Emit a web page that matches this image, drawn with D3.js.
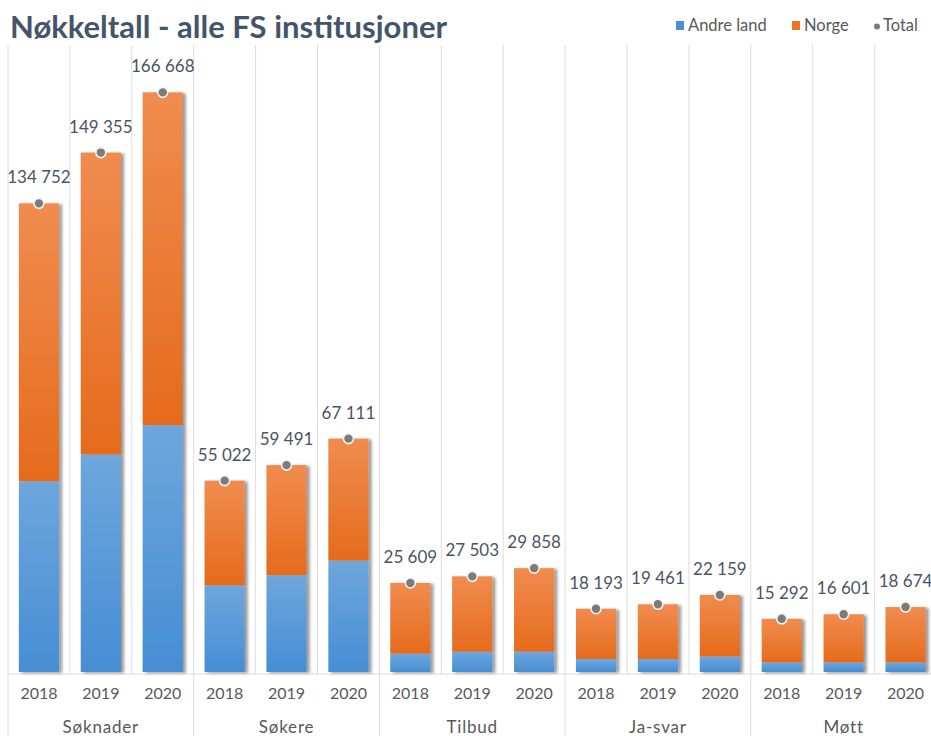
<!DOCTYPE html>
<html>
<head>
<meta charset="utf-8">
<script src="https://cdn.jsdelivr.net/npm/d3@7"></script>
<style>
  body { margin: 0; background: #fff; }
  svg { display: block; font-family: Lato, "Open Sans", sans-serif; }
</style>
</head>
<body>
<svg id="chart" width="931" height="736"></svg>
<script>
// Data
var groups = ["Søknader", "Søkere", "Tilbud", "Ja-svar", "Møtt"];
var years = ["2018", "2019", "2020"];
var total = [134752, 149355, 166668, 55022, 59491, 67111, 25609, 27503, 29858, 18193, 19461, 22159, 15292, 16601, 18674];
var andreLand = [54850, 62530, 70960, 24920, 27800, 32030, 5270, 5840, 5840, 3740, 3740, 4490, 2760, 2760, 2760];
var norge = [79902, 86825, 95708, 30102, 31691, 35081, 20339, 21663, 24018, 14453, 15721, 17669, 12532, 13841, 15914];

var svg = d3.select("#chart");
var width = 931, height = 736;
var plotLeft = 8, plotRight = 936.5, base = 672, plotTop = 46;

// one row per bar
var rows = total.map(function(t, i) {
  return { i: i, group: groups[Math.floor(i / 3)], year: years[i % 3], andre: andreLand[i], norge: norge[i], total: t };
});

var x = d3.scaleBand()
  .domain(d3.range(rows.length))
  .range([plotLeft, plotRight])
  .paddingInner(0.35)
  .paddingOuter(0.175);

var y = d3.scaleLinear().domain([0, 180000]).range([base, plotTop]);

var stack = d3.stack().keys(["andre", "norge"]);
var series = stack(rows);

//====== defs: gradients + shadow ======
var defs = svg.append("defs");
function grad(id, c1, c2) {
  var g = defs.append("linearGradient").attr("id", id)
    .attr("x1", 0).attr("y1", 0).attr("x2", 0).attr("y2", 1);
  g.append("stop").attr("offset", "0%").attr("stop-color", c1);
  g.append("stop").attr("offset", "100%").attr("stop-color", c2);
}
grad("g-andre", "#6ea6dd", "#468ed4");
grad("g-norge", "#f08c4f", "#e56b1c");

var f = defs.append("filter").attr("id", "shadow")
  .attr("x", "-20%").attr("y", "-5%").attr("width", "150%").attr("height", "110%");
f.append("feDropShadow").attr("dx", 3).attr("dy", 1).attr("stdDeviation", 1.8)
  .attr("flood-color", "#000").attr("flood-opacity", 0.4);

//====== gridlines ======
var step = x.step();
var bounds = d3.range(rows.length + 1).map(function(k) { return plotLeft + k * step; });

svg.append("g").selectAll("line").data(bounds).join("line")
  .attr("x1", function(d) { return d; }).attr("x2", function(d) { return d; })
  .attr("y1", plotTop - 1)
  .attr("y2", function(d, k) { return k % 3 === 0 ? height : base + 2; })
  .attr("stroke", "#dcdcdc").attr("stroke-width", 1);

svg.append("line")
  .attr("x1", plotLeft).attr("x2", width)
  .attr("y1", base + 2).attr("y2", base + 2)
  .attr("stroke", "#dcdcdc");

//====== bars ======
var fills = { andre: "url(#g-andre)", norge: "url(#g-norge)" };
svg.append("g").selectAll("g").data(rows).join("g")
  .attr("filter", "url(#shadow)")
  .each(function(r) {
    var g = d3.select(this);
    series.forEach(function(s) {
      var d = s[r.i];
      g.append("rect")
        .attr("x", x(r.i))
        .attr("width", x.bandwidth())
        .attr("y", y(d[1]))
        .attr("height", y(d[0]) - y(d[1]))
        .attr("fill", fills[s.key]);
    });
  });

//====== total dots + labels ======
var fmt = function(v) { return d3.format(",")(v).replace(/,/g, " "); };

svg.append("g").selectAll("circle").data(rows).join("circle")
  .attr("cx", function(r) { return x(r.i) + x.bandwidth() / 2; })
  .attr("cy", function(r) { return y(r.total); })
  .attr("r", 5)
  .attr("fill", "#7b7b7b")
  .attr("stroke", "#f4f4f4").attr("stroke-width", 1.6);

svg.append("g").selectAll("text").data(rows).join("text")
  .attr("x", function(r) { return x(r.i) + x.bandwidth() / 2; })
  .attr("y", function(r) { return y(r.total) - 20; })
  .attr("text-anchor", "middle")
  .attr("font-size", 17)
  .attr("fill", "#4a5464")
  .text(function(r) { return fmt(r.total); });

//====== x axis ======
var axis = svg.append("g")
  .attr("transform", "translate(0," + (base + 2) + ")")
  .call(d3.axisBottom(x).tickSize(0).tickPadding(14)
    .tickFormat(function(i) { return years[i % 3]; }));
axis.select(".domain").remove();
axis.selectAll("text")
  .attr("font-family", "Lato, sans-serif")
  .attr("font-size", 16)
  .attr("fill", "#595959");

svg.append("g").selectAll("text").data(groups).join("text")
  .attr("x", function(g, k) { return plotLeft + (k * 3 + 1.5) * step; })
  .attr("y", 733)
  .attr("text-anchor", "middle")
  .attr("font-size", 17)
  .attr("letter-spacing", 0.8)
  .attr("fill", "#595959")
  .text(function(g) { return g; });

//====== title + legend ======
svg.append("text")
  .attr("x", 10).attr("y", 38)
  .attr("font-size", 31).attr("font-weight", "bold")
  .attr("fill", "#44546a")
  .text("Nøkkeltall - alle FS institusjoner");

var legendItems = [
  { label: "Andre land", color: "#4a90d4", kind: "rect", x: 676 },
  { label: "Norge", color: "#ec7424", kind: "rect", x: 792 },
  { label: "Total", color: "#7b7b7b", kind: "dot", x: 874 }
];
var lg = svg.append("g").selectAll("g").data(legendItems).join("g")
  .attr("transform", function(d) { return "translate(" + d.x + ",25)"; });
lg.each(function(d) {
  var g = d3.select(this);
  if (d.kind === "rect") {
    g.append("rect").attr("x", 0).attr("y", -4).attr("width", 8).attr("height", 9).attr("fill", d.color);
  } else {
    g.append("circle").attr("cx", 3).attr("cy", 1.5).attr("r", 3).attr("fill", d.color);
  }
  g.append("text").attr("x", d.kind === "rect" ? 12 : 9).attr("y", 6)
    .attr("font-size", 16.5).attr("fill", "#595959").text(d.label);
});
</script>
</body>
</html>
